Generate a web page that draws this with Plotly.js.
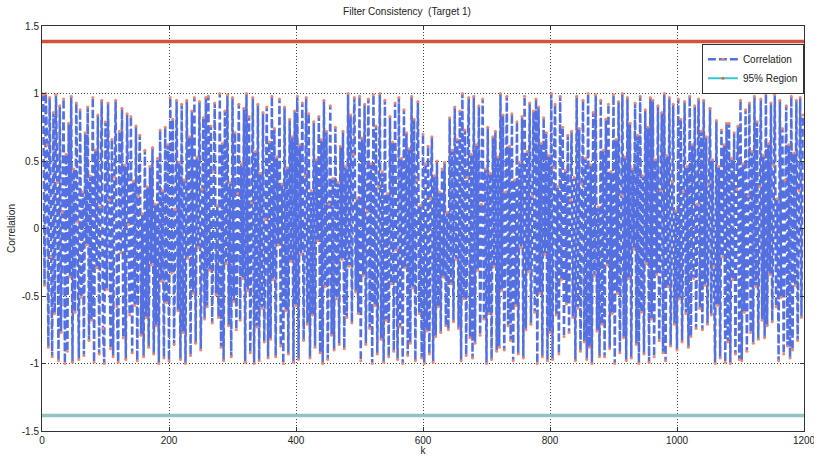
<!DOCTYPE html>
<html>
<head>
<meta charset="utf-8">
<script src="https://cdn.plot.ly/plotly-3.0.1.min.js"></script>
<style>html,body{margin:0;padding:0;background:#fff}#chart{width:814px;height:456px}</style>
</head>
<body>
<div id="chart"></div>
<script>
// Correlation values, read every 2 steps of k (k = 0, 2, 4, ... 1198)
const correlation = [
1.00,0.99,-0.42,1.00,0.62,-0.88,0.97,-0.21,-0.95,0.86,
-0.63,0.99,0.34,-0.98,0.91,-0.77,0.12,0.96,-1.00,0.55,
-0.91,0.78,-0.36,0.98,-0.99,0.44,-0.62,0.93,0.05,-0.97,
0.88,-0.51,0.27,-0.94,0.71,-0.12,0.90,-0.83,0.39,-0.68,
0.97,-0.99,0.58,-0.29,0.84,-0.93,0.16,0.95,-0.74,-1.00,
0.79,-0.45,0.93,0.21,-0.89,0.66,-0.95,0.38,0.95,-0.58,
-0.99,0.72,-0.18,0.89,-0.81,0.47,-0.97,0.85,0.03,-0.64,
0.83,-0.92,0.35,-0.57,0.76,-0.98,0.24,0.69,-0.79,0.11,
-0.95,0.58,-0.66,0.31,-0.88,0.46,-0.27,0.60,-0.93,0.18,
-0.72,0.52,-1.00,0.73,-0.39,0.28,-0.96,0.75,-0.55,0.62,
-0.98,0.97,-0.33,0.81,-0.86,0.14,0.95,-0.61,0.49,-0.97,
0.92,-0.77,0.36,-1.00,0.95,-0.22,0.68,-0.94,0.87,-0.48,
0.97,-0.85,0.53,-0.14,0.94,-0.90,0.29,0.82,-0.67,0.97,
-0.58,0.98,-0.31,0.76,-0.70,0.42,0.93,-0.49,0.17,-0.66,
1.00,-0.88,0.63,-0.98,0.87,-0.26,0.99,-0.72,0.34,-0.95,
0.97,-0.54,0.71,-0.75,0.26,0.92,-0.68,0.48,-0.37,0.89,
-0.99,1.00,-0.46,0.83,-0.92,0.19,0.97,-1.00,0.57,-0.73,
0.92,-0.98,0.41,-0.59,0.86,-0.84,0.07,0.90,-0.96,0.64,
-0.82,0.98,-0.38,0.74,-0.95,0.53,-0.12,0.96,-0.87,0.33,
-1.00,0.90,-0.61,0.45,-0.93,0.81,-0.24,0.68,-0.99,0.87,
-0.57,0.98,-0.97,0.62,-0.19,0.93,-0.83,0.39,0.97,-0.71,
0.85,-0.96,0.28,-0.64,0.79,-0.88,0.51,-0.09,0.83,-0.92,
0.66,-1.00,0.95,-0.43,0.72,-0.97,0.18,0.91,-0.79,0.37,
-0.90,0.75,-0.52,0.34,-0.86,0.61,-0.23,0.72,-0.89,0.46,
-0.66,1.00,-0.28,0.84,-0.70,0.55,0.97,-0.47,0.22,-0.63,
0.98,-0.98,0.67,-0.35,0.92,-0.86,0.13,0.96,-0.74,0.48,
-1.00,0.99,-0.57,0.76,-0.93,0.31,1.00,-0.82,0.42,-0.99,
0.95,-0.68,0.26,-0.95,0.83,-0.41,0.64,-0.91,0.93,-0.16,
-0.97,0.97,-0.73,0.52,-1.00,0.88,-0.29,0.71,-0.94,0.59,
-0.85,0.98,-0.44,0.81,-0.98,0.36,0.94,-0.63,0.17,-0.96,
0.70,-1.00,0.48,-0.76,0.61,-0.93,0.22,0.68,-0.99,0.39,
-0.80,0.50,-0.58,0.27,-0.77,0.44,-0.36,0.49,-0.72,0.12,
-0.75,0.82,-0.41,0.58,-0.69,0.90,-0.23,0.66,-0.74,0.87,
-0.98,1.00,-0.52,0.73,-0.94,0.38,0.97,-0.81,0.55,-0.96,
0.98,-0.85,0.62,-0.31,0.91,-0.79,0.18,0.96,-0.67,0.44,
-1.00,0.75,-0.63,0.41,-0.97,0.68,-0.28,0.72,-0.91,0.53,
-0.88,1.00,-0.46,0.84,-0.90,0.27,0.98,-0.72,0.61,-0.83,
0.85,-0.98,0.36,-0.57,0.79,-0.93,0.49,-0.14,0.83,-0.96,
0.98,-0.75,0.57,-0.32,0.93,-0.71,0.24,0.87,-0.62,0.96,
-1.00,0.90,-0.48,0.63,-0.95,0.82,-0.19,0.71,-0.98,0.54,
-0.77,1.00,-0.97,0.45,0.92,-0.64,0.31,-0.93,0.98,-0.38,
0.75,-0.80,0.43,-0.56,0.69,-0.77,0.21,0.72,-0.66,0.38,
-0.98,0.98,-0.59,0.74,-0.91,0.33,0.95,-0.84,0.52,-0.97,
1.00,-0.88,0.47,-1.00,0.86,-0.35,0.99,-0.76,0.16,-0.95,
0.95,-0.71,0.58,-0.95,0.81,-0.27,0.92,-0.89,0.42,-0.63,
0.99,-1.00,0.66,-0.48,0.94,-0.92,0.25,1.00,-0.81,0.53,
-0.98,0.97,-0.37,0.78,-0.96,0.44,-0.15,0.93,-0.86,0.69,
-1.00,0.98,-0.62,0.39,-0.93,0.88,-0.26,0.75,-0.99,0.97,
-0.67,0.95,-0.95,0.51,-0.34,0.91,-0.83,0.28,0.86,-0.92,
1.00,-0.98,0.54,-0.43,0.97,-0.87,0.35,0.92,-0.71,0.13,
-0.90,0.96,-0.52,0.81,-0.84,0.27,0.94,-0.63,0.46,-0.88,
0.98,-0.80,0.62,-0.37,0.91,-0.74,0.18,0.96,-0.59,0.72,
-0.75,0.95,-0.42,0.68,-0.71,0.33,0.89,-0.64,0.51,-0.28,
-1.00,0.80,-0.57,0.46,-0.96,0.73,-0.21,0.62,-0.99,0.78,
-0.84,0.78,-1.00,0.52,-0.38,0.71,-0.93,0.29,0.76,-0.97,
0.95,-0.98,0.48,-0.62,0.88,-0.91,0.24,0.93,-0.77,0.57,
-0.85,0.98,-0.43,0.79,-0.82,0.31,0.96,-0.68,0.54,-0.81,
1.00,-0.72,0.63,-0.34,0.93,-0.69,0.47,0.99,-0.58,0.22,
-0.98,0.95,-0.51,0.74,-0.93,0.36,0.91,-0.87,0.62,-0.96,
0.98,-0.90,0.56,-0.42,0.95,-0.83,0.28,0.97,-0.66,0.84
];
const kStep = 2;
const kValues = correlation.map((_, i) => i * kStep);

// 95% region bounds
const boundK = [0, 1200];
const upperBound = [1.386, 1.386];
const lowerBound = [-1.386, -1.386];

// Tick labels
const xTicks = [0, 200, 400, 600, 800, 1000, 1200];
const yTicks = [-1.5, -1, -0.5, 0, 0.5, 1, 1.5];
const yTickLabels = ['-1.5', '-1', '-0.5', '0', '0.5', '1', '1.5'];

const font = {family: 'Liberation Sans, Arial, sans-serif', size: 10, color: '#222'};

const traces = [
  {
    x: boundK, y: upperBound, mode: 'lines', showlegend: false, hoverinfo: 'skip',
    line: {color: '#d2553b', width: 3.5}
  },
  {
    x: boundK, y: lowerBound, mode: 'lines', showlegend: false, hoverinfo: 'skip',
    line: {color: '#93c3c3', width: 3.5}
  },
  {
    x: kValues, y: correlation, name: 'Correlation', mode: 'lines+markers',
    line: {color: '#5470e0', width: 2.5, dash: '8px,3px'},
    marker: {color: '#f3876c', size: 3}
  },
  {
    x: [null], y: [null], name: '95% Region', mode: 'lines+markers',
    line: {color: '#35c6d2', width: 2},
    marker: {color: '#e8643f', size: 3}
  }
];

const axisCommon = {
  showline: true, linecolor: '#333', linewidth: 1, mirror: 'ticks',
  ticks: 'inside', ticklen: 4, tickcolor: '#333',
  showgrid: true, gridcolor: '#444', griddash: '1px,2px', gridwidth: 1,
  zeroline: false, tickfont: font, ticklabeloverflow: 'allow'
};

const layout = {
  width: 814, height: 456,
  margin: {l: 42, r: 10, t: 26, b: 25},
  paper_bgcolor: '#fff', plot_bgcolor: '#fff',
  font: font,
  title: {text: 'Filter Consistency  (Target 1)', font: {family: font.family, size: 10, color: '#222'}, x: 0.5, xanchor: 'center', y: 0.975, yanchor: 'middle'},
  xaxis: Object.assign({}, axisCommon, {
    range: [0, 1200], tickvals: xTicks, ticktext: xTicks.map(String),
    title: {text: 'k', font: font, standoff: 2}
  }),
  yaxis: Object.assign({}, axisCommon, {
    range: [-1.5, 1.5], tickvals: yTicks, ticktext: yTickLabels,
    title: {text: 'Correlation', font: font, standoff: 4}
  }),
  showlegend: true,
  legend: {
    x: 0.866, y: 0.956, xanchor: 'left', yanchor: 'top',
    bgcolor: '#fff', bordercolor: '#333', borderwidth: 1,
    font: font, itemwidth: 30, tracegroupgap: 0
  }
};

Plotly.newPlot('chart', traces, layout, {displayModeBar: false, staticPlot: true});
</script>
</body>
</html>
